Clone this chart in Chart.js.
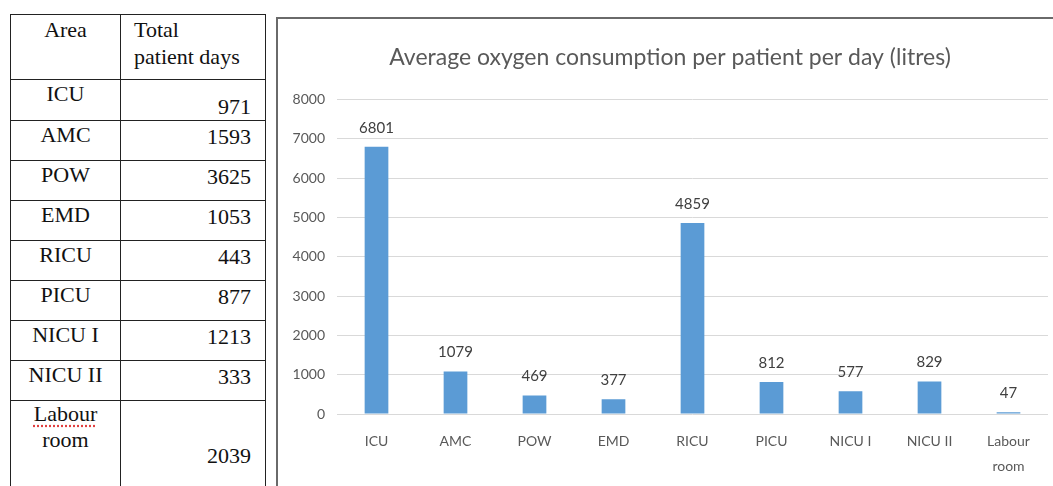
<!DOCTYPE html>
<html lang="en">
<head>
  <meta charset="UTF-8"/>
  <title>Oxygen consumption</title>
  <script src="https://cdn.jsdelivr.net/npm/chart.js"></script>
  <style>
    body {
      margin: 0;
      background: #fff;
      width: 1053px;
      height: 486px;
      overflow: hidden;
      position: relative;
    }

    table {
      position: absolute;
      left: 10px;
      top: 14px;
      border-collapse: collapse;
      font-family: 'Liberation Serif', serif;
      font-size: 22px;
      color: #111;
    }

    td {
      border: 1.5px solid #222;
      vertical-align: top;
      padding: 0;
      line-height: 27px;
    }

    td.area {
      width: 109px;
      text-align: center;
      padding-top: 0px;
    }

    td.days {
      width: 145px;
      text-align: right;
      padding-right: 14px;
      padding-top: 2px;
      box-sizing: border-box;
    }

    .squiggle {
      text-decoration: underline dotted #e04040;
      text-underline-offset: 4px;
    }

    .chart-box {
      position: absolute;
      left: 276px;
      top: 17px;
      width: 800px;
      height: 500px;
      border: 2px solid #6a6a6a;
    }

    .chart-box canvas {
      position: absolute;
      left: 0;
      top: 0;
    }
  </style>
</head>
<body>

  <table id="daysTable">
    <tr style="height:65px">
      <td class="area" style="padding-top:1px">Area</td>
      <td class="days" style="text-align:left;padding-left:13px;padding-top:1px">Total<br>patient days</td>
    </tr>
  </table>

  <div class="chart-box">
    <canvas id="oxyChart" width="775" height="467"></canvas>
  </div>

  <script>
    // table data
    const areas = ["ICU", "AMC", "POW", "EMD", "RICU", "PICU", "NICU I", "NICU II", "Labour room"];
    const patientDays = [971, 1593, 3625, 1053, 443, 877, 1213, 333, 2039];

    // chart data
    const chartTitle = "Average oxygen consumption per patient per day (litres)";
    const categories = ["ICU", "AMC", "POW", "EMD", "RICU", "PICU", "NICU I", "NICU II", ["Labour", "room"]];
    const oxygenPerDay = [6801, 1079, 469, 377, 4859, 812, 577, 829, 47];
    const yTicks = [0, 1000, 2000, 3000, 4000, 5000, 6000, 7000, 8000];

    // build table rows
    const table = document.getElementById('daysTable');
    areas.forEach((a, i) => {
      const tr = document.createElement('tr');
      const last = i === areas.length - 1;
      tr.style.height = last ? '90px' : '40px';
      const tdA = document.createElement('td');
      tdA.className = 'area';
      if (last) {
        tdA.innerHTML = '<span class="squiggle">Labour</span><br>room';
        tdA.style.lineHeight = '26px';
      } else {
        tdA.textContent = a;
      }
      const tdD = document.createElement('td');
      tdD.className = 'days';
      tdD.textContent = patientDays[i];
      if (i === 0) tdD.style.paddingTop = '13px';
      if (last) tdD.style.paddingTop = '41px';
      tr.appendChild(tdA);
      tr.appendChild(tdD);
      table.appendChild(tr);
    });

    const valueLabels = {
      id: 'valueLabels',
      afterDatasetsDraw(chart) {
        const ctx = chart.ctx;
        const meta = chart.getDatasetMeta(0);
        ctx.save();
        ctx.font = "15px Lato";
        ctx.fillStyle = "#404040";
        ctx.textAlign = "center";
        ctx.textBaseline = "middle";
        meta.data.forEach((bar, i) => {
          ctx.fillText(oxygenPerDay[i], bar.x, bar.y - 19);
        });
        ctx.restore();
      }
    };

    new Chart(document.getElementById('oxyChart'), {
      type: 'bar',
      data: {
        labels: categories,
        datasets: [{
          data: oxygenPerDay,
          backgroundColor: "#5b9bd5",
          barPercentage: 0.3,
          categoryPercentage: 1
        }]
      },
      options: {
        responsive: false,
        animation: false,
        layout: { padding: { left: 14, right: 5, top: 0, bottom: 0 } },
        plugins: {
          legend: { display: false },
          tooltip: { enabled: false },
          title: {
            display: true,
            text: chartTitle,
            color: "#595959",
            font: { family: "Lato", size: 23, weight: 'normal', lineHeight: 1.2 },
            padding: { top: 25, bottom: 28 }
          }
        },
        scales: {
          x: {
            grid: { display: false },
            border: { display: false },
            ticks: {
              color: "#595959",
              font: { family: "Lato", size: 14, lineHeight: 1.8 },
              padding: 7,
              maxRotation: 0,
              autoSkip: false
            },
            afterFit: s => { s.height = 72; }
          },
          y: {
            min: 0,
            max: 8000,
            afterBuildTicks: s => { s.ticks = yTicks.map(v => ({ value: v })); },
            grid: { color: "#d9d9d9", drawTicks: false },
            border: { display: false },
            ticks: {
              color: "#595959",
              font: { family: "Lato", size: 14 },
              padding: 12,
              callback: v => String(v)
            },
            afterFit: s => { s.width = 45; }
          }
        }
      },
      plugins: [valueLabels]
    });
  </script>
</body>
</html>
